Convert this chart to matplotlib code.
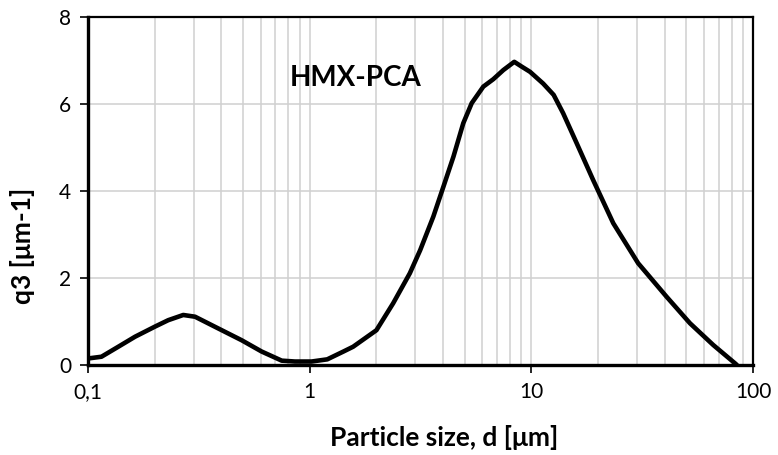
import matplotlib
matplotlib.use("Agg")
import matplotlib.pyplot as plt
from matplotlib.ticker import FixedLocator, LogLocator, NullFormatter

plt.rcParams['font.family'] = ['Lato', 'DejaVu Sans']

# particle size distribution
size_um = [0.1, 0.115, 0.137, 0.163, 0.2, 0.23, 0.269, 0.304, 0.387, 0.493, 0.607,
           0.748, 0.858, 1.02, 1.2, 1.42, 1.57, 2.0, 2.38, 2.83, 3.15, 3.61,
           4.01, 4.45, 4.93, 5.38, 6.07, 6.73, 7.47, 8.37, 9.04, 9.86, 11.3,
           12.6, 13.9, 16.0, 19.0, 23.4, 30.3, 40.7, 51.9, 66.1, 82.8, 84.5]
q3 = [0.15, 0.19, 0.42, 0.65, 0.88, 1.03, 1.15, 1.11, 0.84, 0.57, 0.31,
      0.10, 0.08, 0.08, 0.13, 0.31, 0.42, 0.80, 1.42, 2.11, 2.64, 3.41,
      4.10, 4.79, 5.56, 6.02, 6.40, 6.57, 6.78, 6.97, 6.86, 6.74, 6.47,
      6.21, 5.79, 5.10, 4.25, 3.26, 2.34, 1.57, 0.96, 0.46, 0.04, 0.0]

x_ticks = [0.1, 1, 10, 100]
x_tick_labels = ['0,1', '1', '10', '100']
y_ticks = [0, 2, 4, 6, 8]

fig = plt.figure(figsize=(7.78, 4.55), dpi=100)
ax = fig.add_axes([0.1131, 0.1978, 0.968 - 0.1131, 0.9626 - 0.1978])

ax.plot(size_um, q3, color='black', lw=3.3, solid_joinstyle='round',
        solid_capstyle='round', zorder=3)

ax.set_xscale('log')
ax.set_xlim(0.1, 100)
ax.set_ylim(0, 8)
ax.xaxis.set_major_locator(FixedLocator(x_ticks))
ax.set_xticklabels(x_tick_labels)
ax.xaxis.set_minor_locator(LogLocator(base=10, subs=range(2, 10)))
ax.xaxis.set_minor_formatter(NullFormatter())
ax.set_yticks(y_ticks)

ax.grid(True, which='both', axis='x', color='#d0d0d0', lw=1.1)
ax.grid(True, which='major', axis='y', color='#d0d0d0', lw=1.1)
ax.set_axisbelow(True)

ax.tick_params(axis='both', which='major', direction='out', length=6, width=1.2,
               labelsize=15, colors='black', pad=6)
ax.tick_params(axis='x', which='minor', length=0)

for side in ['left', 'bottom']:
    ax.spines[side].set_linewidth(2.4)
for side in ['top', 'right']:
    ax.spines[side].set_linewidth(1.6)

ax.set_xlabel('Particle size, d [μm]', fontsize=19, fontweight='bold')
ax.set_ylabel('q3 [μm-1]', fontsize=19, fontweight='bold')
ax.xaxis.set_label_coords(0.535, -0.172)
ax.yaxis.set_label_coords(-0.08, 0.342)

ax.text(0.815, 6.6, 'HMX-PCA', fontsize=20, fontweight='bold', va='center', ha='left')

fig.savefig('out.png', dpi=100)
